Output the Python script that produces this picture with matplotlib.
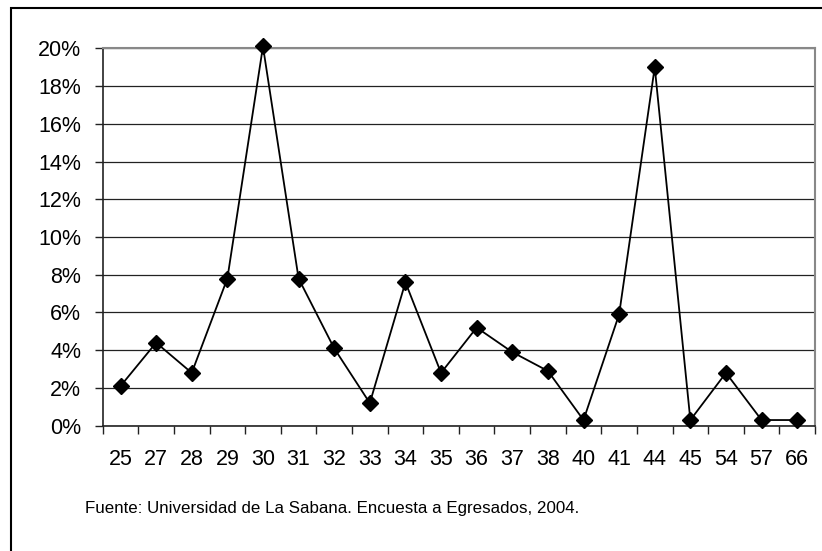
import matplotlib.pyplot as plt
from matplotlib import font_manager
from matplotlib.patches import Rectangle
from matplotlib.ticker import FuncFormatter

plt.rcParams['font.family'] = ['Liberation Sans', 'DejaVu Sans']

edades = ['25', '27', '28', '29', '30', '31', '32', '33', '34', '35',
          '36', '37', '38', '40', '41', '44', '45', '54', '57', '66']
porcentaje = [2.1, 4.4, 2.8, 7.8, 20.1, 7.8, 4.1, 1.2, 7.6, 2.8,
              5.2, 3.9, 2.9, 0.3, 5.9, 19.0, 0.3, 2.8, 0.3, 0.3]
yticks = list(range(0, 21, 2))
fuente = 'Fuente: Universidad de La Sabana. Encuesta a Egresados, 2004.'

# narrow font for the source note if available
try:
    font_manager.findfont('Liberation Sans Narrow', fallback_to_default=False)
    nota_font, nota_size = 'Liberation Sans Narrow', 14.5
except ValueError:
    nota_font, nota_size = 'Liberation Sans', 12.2

W, H = 822, 551
fig = plt.figure(figsize=(W / 100, H / 100), dpi=100)
ax = fig.add_axes([102.7 / W, 1 - 425.7 / H, (815 - 102.7) / W, (425.7 - 48.3) / H])

x = range(len(edades))
ax.plot(x, porcentaje, color='black', lw=1.3, marker='D', ms=8.5,
        clip_on=False, zorder=3)

ax.set_xlim(-0.5, len(edades) - 0.5)
ax.set_ylim(0, 20)
ax.set_yticks(yticks)
ax.yaxis.set_major_formatter(FuncFormatter(lambda v, p: '%d%%' % v))
ax.set_xticks([i - 0.5 for i in range(len(edades) + 1)])
ax.set_xticklabels([])
ax.set_xticks(list(x), minor=True)
ax.set_xticklabels(edades, minor=True)
ax.tick_params(axis='x', which='minor', length=0, pad=17, labelsize=15.5)
ax.tick_params(axis='x', which='major', length=5.5, width=1, color='#222')
ax.tick_params(axis='y', length=5.5, width=1, color='#222', pad=10, labelsize=15.5)

ax.grid(axis='y', color='#222', lw=0.9)
ax.set_axisbelow(True)
for s in ['top', 'right']:
    ax.spines[s].set_color('#888')
    ax.spines[s].set_linewidth(1.5)
for s in ['left', 'bottom']:
    ax.spines[s].set_color('#222')
    ax.spines[s].set_linewidth(1.2)

fig.text(85 / W, 1 - 509 / H, fuente, fontsize=nota_size, family=nota_font,
         va='center', ha='left')

fig.patches.append(Rectangle((11 / W, -0.1), 1.2, 1 - 7.5 / H + 0.1,
                             transform=fig.transFigure, fill=False,
                             edgecolor='black', lw=1.5))

plt.savefig('out.png', dpi=100)
